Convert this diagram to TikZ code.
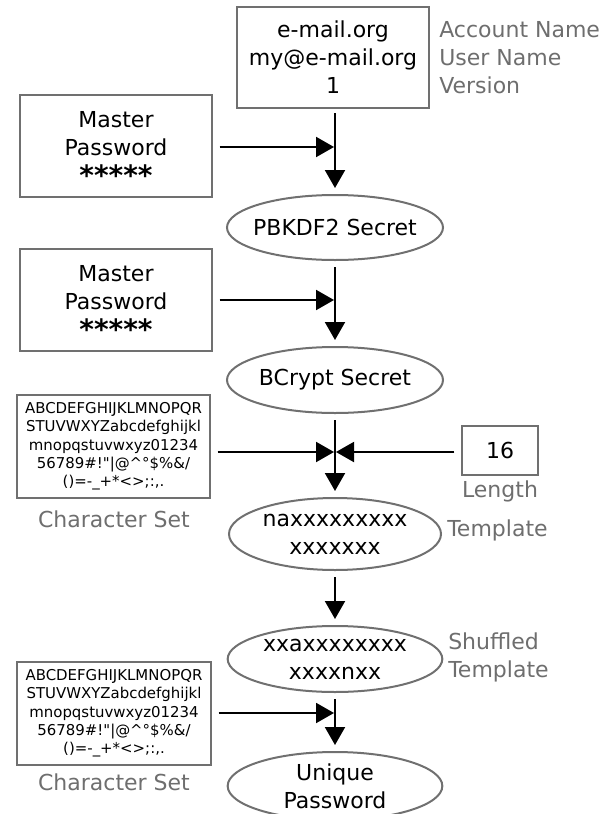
\documentclass[tikz,border=0pt]{standalone}
\usepackage{fontspec}
\setmainfont{DejaVu Sans}
\newfontfamily\plainfont{DejaVu Sans}
\usetikzlibrary{arrows.meta,shapes.geometric}
\definecolor{framegray}{RGB}{112,112,112}
\definecolor{labelgray}{RGB}{110,110,110}
\newcommand{\maintext}{\plainfont\fontsize{16.5}{21}\selectfont}
\newcommand{\smalltext}{\plainfont\fontsize{11.2}{13.75}\selectfont}
\newcommand{\starstext}{\plainfont\bfseries\fontsize{21}{21}\selectfont}
\newcommand{\charset}{ABCDEFGHIJKLMNOPQR\\STUVWXYZabcdefghijkl\\mnopqstuvwxyz01234\\
  56789\#!"|@\textasciicircum°\$\%\&/\\()=-\_+*<>;:,.}
\begin{document}
\begin{tikzpicture}[x=0.75pt,y=-0.75pt,
  databox/.style={draw=framegray,line width=1.5pt,rectangle,inner sep=0pt,
    align=center,font=\maintext},
  charbox/.style={draw=framegray,line width=1.5pt,rectangle,inner sep=0pt,
    align=center,font=\smalltext},
  stage/.style={draw=framegray,line width=1.5pt,ellipse,inner sep=0pt},
  inside/.style={inner sep=0pt,align=center,font=\maintext},
  stars/.style={inner sep=0pt,font=\starstext},
  note/.style={text=labelgray,inner sep=0pt,align=left,font=\maintext},
  flow/.style={line width=1.5pt,-{Triangle[length=13.5pt,width=15pt]},
    shorten <=4.5pt,shorten >=4.5pt},
  feed/.style={line width=1.5pt,-{Triangle[length=13.5pt,width=15pt]},
    shorten <=5pt,shorten >=0.75pt}]
\clip (0,0) rectangle (611,814);

% inputs for the account
\node[databox,minimum width=144pt,minimum height=75.75pt] (acct) at (333,57.5)
  {e-mail.org\\my@e-mail.org\\1};
\node[note,anchor=west] (acctnote) at (439,58) {Account Name\\User Name\\Version};

% master password boxes: frame with the words above and the hidden digits below
\node[databox,minimum width=144pt,minimum height=76.5pt,
  label={[inside,yshift=9pt]center:Master\\Password},
  label={[stars,yshift=-22pt]center:*****}] (mpa) at (116,146) {};
\node[databox,minimum width=144pt,minimum height=76.5pt,
  label={[inside,yshift=9pt]center:Master\\Password},
  label={[stars,yshift=-22pt]center:*****}] (mpb) at (116,300) {};

% derivation stages
\node[stage,minimum width=162pt,minimum height=48.75pt,
  label={[inside]center:PBKDF2 Secret}] (pbkdf) at (335,227.5) {};
\node[stage,minimum width=162pt,minimum height=49.5pt,
  label={[inside]center:BCrypt Secret}] (bcrypt) at (335,380) {};
\node[stage,minimum width=159pt,minimum height=54pt,
  label={[inside,yshift=-0.5pt]center:naxxxxxxxxx\\xxxxxxx}] (tmpl) at (335,534) {};
\node[stage,minimum width=161pt,minimum height=49.5pt,
  label={[inside,yshift=-0.5pt]center:xxaxxxxxxxx\\xxxxnxx}] (shuf) at (335,659) {};
\node[stage,minimum width=161pt,minimum height=51pt,
  label={[inside,yshift=0pt]center:Unique\\Password}] (uniq) at (335,786) {};

\node[note,anchor=west] (tmplnote) at (447,530) {Template};
\node[note,anchor=west] (shufnote) at (448,657) {Shuffled\\Template};

% length and character sets
\node[databox,minimum width=57pt,minimum height=36.75pt] (len) at (500,450.5) {16};
\node[note,align=center] (lennote) at (500,491) {Length};

\node[charbox,minimum width=144.75pt,minimum height=77.25pt] (csa) at (113.5,446.5)
  {\charset};
\node[note,align=center] (csanote) at (114,519) {Character Set};
\node[charbox,minimum width=145.5pt,minimum height=77.25pt] (csb) at (114,713.5)
  {\charset};
\node[note,align=center] (csbnote) at (114,782) {Character Set};

% points where side inputs meet the main flow
\coordinate (ja) at (335,147);
\coordinate (jb) at (335,300);
\coordinate (jc) at (335,452);
\coordinate (jd) at (335,713);

% main flow
\draw[flow,shorten <=3pt] (acct.south -| ja) -- (pbkdf.north);
\draw[flow] (pbkdf) -- (bcrypt);
\draw[flow] (bcrypt) -- (tmpl);
\draw[flow] (tmpl) -- (shuf);
\draw[flow] (shuf) -- (uniq);

% side inputs
\draw[feed] (mpa.east |- ja) -- (ja);
\draw[feed] (mpb.east |- jb) -- (jb);
\draw[feed] (csa.east |- jc) -- (jc);
\draw[feed] (len.west |- jc) -- (jc);
\draw[feed] (csb.east |- jd) -- (jd);
\end{tikzpicture}
\end{document}
